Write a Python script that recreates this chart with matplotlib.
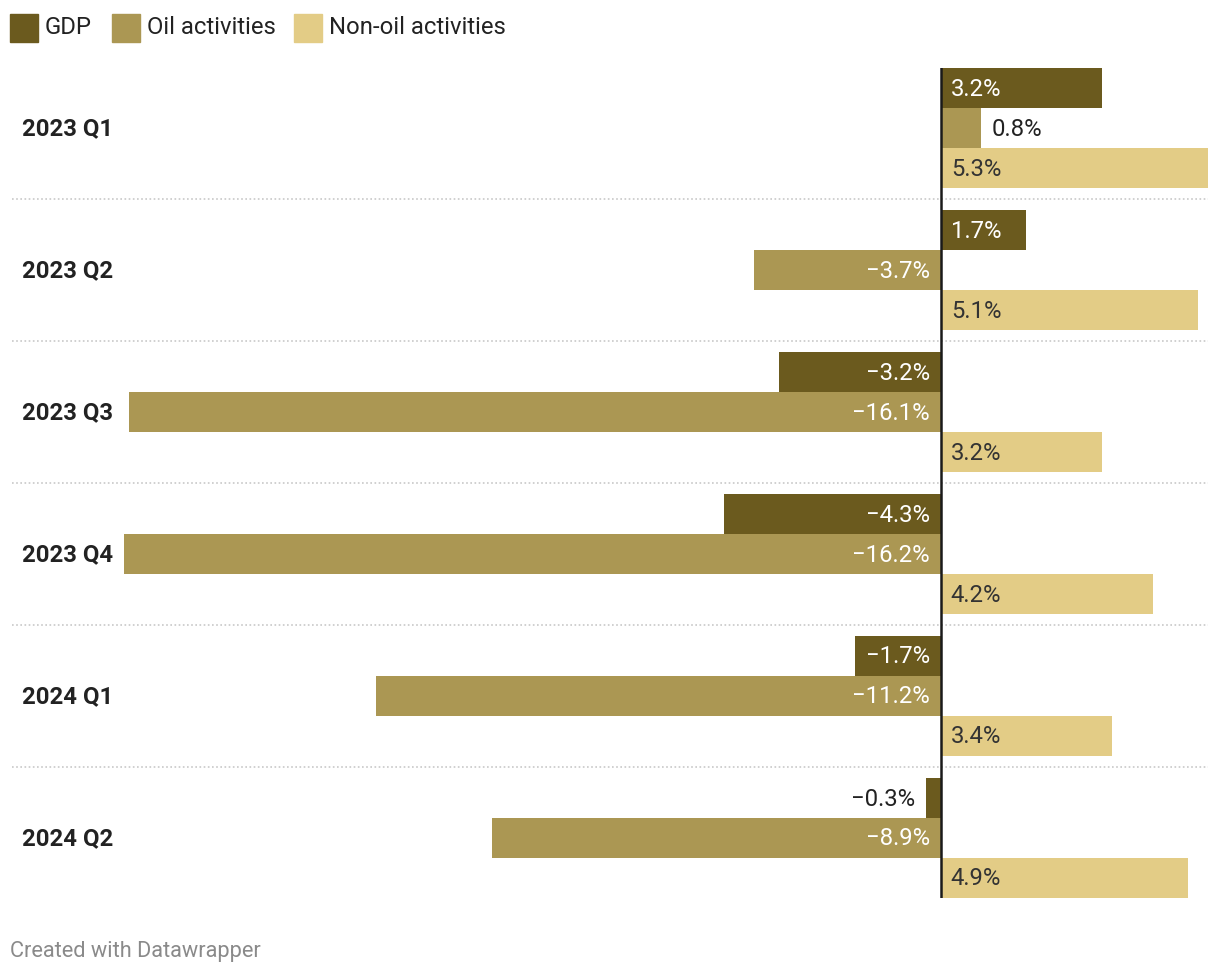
import matplotlib
matplotlib.use("Agg")
import matplotlib.pyplot as plt
from matplotlib.patches import Rectangle

categories = ["2023 Q1", "2023 Q2", "2023 Q3", "2023 Q4", "2024 Q1", "2024 Q2"]
series_names = ["GDP", "Oil activities", "Non-oil activities"]
gdp = [3.2, 1.7, -3.2, -4.3, -1.7, -0.3]
oil = [0.8, -3.7, -16.1, -16.2, -11.2, -8.9]
non_oil = [5.3, 5.1, 3.2, 4.2, 3.4, 4.9]

colors = ["#6b5a1e", "#ab9753", "#e3cc86"]
label_colors = ["white", "white", "#333333"]
dark = "#222222"

W, H = 1220, 976
fig = plt.figure(figsize=(W / 100, H / 100), dpi=100)
plt.rcParams["font.family"] = ["Roboto", "DejaVu Sans"]

ax_l, ax_r, ax_t, ax_b = 124, 1208, 68, 898
ax = fig.add_axes([ax_l / W, 1 - ax_b / H, (ax_r - ax_l) / W, (ax_b - ax_t) / H])
ax.set_xlim(-16.2, 5.3)
step = 142.0
bh = 40.0 / step
ax.set_ylim(len(categories) - 1 + 60 / step, -60 / step)
ax.axis("off")

fs = 17.2
px = 21.5 / (ax_r - ax_l)  # data units per pixel
dy = 1.0 / step  # one pixel downward
for j, vals in enumerate([gdp, oil, non_oil]):
    for i, v in enumerate(vals):
        y = i + (j - 1) * bh
        ax.barh(y, v, height=bh, color=colors[j], zorder=2, linewidth=0)
        small = abs(v) < 1.0
        ty = y + dy
        if v >= 0:
            if small:
                ax.text(v + 11 * px, ty, f"{v:.1f}%", ha="left", va="center",
                        color=dark, fontsize=fs, zorder=4)
            else:
                ax.text(10 * px, ty, f"{v:.1f}%", ha="left", va="center",
                        color=label_colors[j], fontsize=fs, zorder=4)
        else:
            s = "\u2212" + f"{abs(v):.1f}%"
            if small:
                ax.text(v - 11 * px, ty, s, ha="right", va="center",
                        color=dark, fontsize=fs, zorder=4)
            else:
                ax.text(-11 * px, ty, s, ha="right", va="center",
                        color=label_colors[j], fontsize=fs, zorder=4)

ax.axvline(0, color="#1a1a1a", lw=1.8, zorder=5)

for i in range(len(categories) - 1):
    ax.axhline(i + 0.5, xmin=(12 - ax_l) / (ax_r - ax_l), xmax=1,
               color="#c8c8c8", lw=1.2, ls=(0, (1, 1.5)), clip_on=False, zorder=1)

for i, c in enumerate(categories):
    fig.text(22 / W, 1 - (129 + step * i) / H, c, ha="left", va="center",
             fontsize=fs, fontweight="bold", color=dark)

# legend
leg_x = [10, 112, 294]
for k, name in enumerate(series_names):
    fig.patches.append(Rectangle((leg_x[k] / W, 1 - 42 / H), 28 / W, 28 / H,
                                 transform=fig.transFigure, color=colors[k]))
    fig.text((leg_x[k] + 35) / W, 1 - 27 / H, name, ha="left", va="center",
             fontsize=fs, color=dark)

fig.text(10 / W, 1 - 952 / H, "Created with Datawrapper", ha="left", va="center",
         fontsize=15.7, color="#8a8a8a")

fig.savefig("out.png", dpi=100, facecolor="white")
